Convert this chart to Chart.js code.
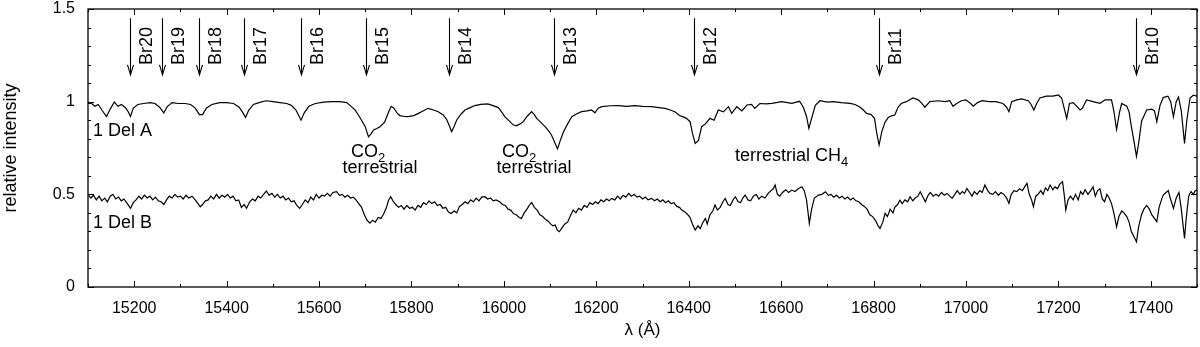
<!DOCTYPE html>
<html>
<head>
<meta charset="utf-8">
<script src="https://cdn.jsdelivr.net/npm/chart.js@4.4.0/dist/chart.umd.min.js"></script>
<style>
  html, body { margin: 0; padding: 0; background: #fff; }
  #wrap { width: 1200px; height: 347px; }
</style>
</head>
<body>
<div id="wrap"><canvas id="myChart" width="1200" height="347"></canvas></div>
<script>
// wavelength (A) and relative intensity
let waveA = [15100,15108,15115,15122,15130,15140,15148,15157,15165,15172,15180,15186,15192,15198,15208,15220,15235,15245,15255,15264,15272,15282,15295,15310,15322,15332,15341,15348,15356,15368,15385,15400,15415,15427,15434,15441,15448,15458,15470,15485,15500,15515,15530,15540,15550,15561,15568,15578,15592,15610,15627,15645,15660,15670,15678,15685,15692,15700,15707,15712,15718,15725,15732,15742,15750,15756,15762,15770,15775,15785,15793,15805,15815,15825,15836,15848,15858,15868,15876,15882,15887,15892,15898,15908,15916,15927,15937,15950,15965,15975,15988,15995,16002,16012,16020,16027,16035,16042,16050,16060,16066,16071,16080,16089,16096,16103,16110,16116,16122,16129,16138,16147,16158,16168,16180,16190,16197,16204,16212,16230,16248,16265,16284,16300,16320,16335,16349,16360,16370,16380,16387,16395,16403,16408,16414,16421,16428,16436,16446,16455,16464,16475,16486,16493,16504,16515,16526,16536,16543,16554,16567,16580,16601,16623,16640,16648,16655,16660,16666,16674,16684,16700,16713,16730,16749,16760,16771,16778,16785,16795,16802,16807,16812,16818,16825,16832,16840,16846,16853,16860,16871,16885,16897,16905,16911,16922,16940,16955,16965,16972,16980,16990,17000,17010,17016,17025,17035,17050,17065,17080,17088,17093,17099,17110,17120,17135,17141,17147,17153,17160,17174,17188,17200,17207,17212,17218,17224,17232,17240,17247,17252,17261,17275,17290,17301,17315,17320,17326,17332,17337,17348,17353,17358,17364,17369,17374,17380,17391,17402,17408,17413,17420,17427,17437,17443,17449,17455,17460,17466,17473,17478,17485,17492,17500];
let fluxA = [0.99,0.99,0.975,0.985,0.955,0.92,0.96,0.998,0.975,0.985,0.97,0.95,0.92,0.965,0.985,0.99,0.995,0.99,0.97,0.94,0.975,0.995,0.99,0.99,0.985,0.965,0.93,0.93,0.965,0.985,0.995,0.995,0.99,0.97,0.945,0.915,0.955,0.985,0.995,1.005,1.0,0.995,0.99,0.98,0.955,0.90,0.94,0.975,0.99,0.998,1.0,1.0,0.995,0.973,0.955,0.928,0.9,0.865,0.81,0.825,0.847,0.855,0.865,0.89,0.94,0.975,0.965,0.935,0.925,0.92,0.919,0.925,0.937,0.95,0.964,0.955,0.946,0.93,0.905,0.87,0.838,0.865,0.901,0.935,0.955,0.968,0.979,0.985,0.988,0.98,0.968,0.945,0.919,0.895,0.875,0.87,0.88,0.892,0.92,0.946,0.93,0.91,0.888,0.865,0.845,0.82,0.78,0.745,0.79,0.838,0.88,0.919,0.935,0.946,0.95,0.955,0.94,0.965,0.973,0.978,0.979,0.975,0.979,0.975,0.973,0.968,0.964,0.955,0.946,0.925,0.919,0.91,0.892,0.83,0.775,0.79,0.865,0.88,0.91,0.9,0.955,0.945,0.973,0.937,0.973,0.95,0.982,0.985,0.964,0.99,0.988,0.991,1.0,0.991,1.002,0.97,0.92,0.856,0.91,0.98,1.005,0.998,1.0,0.995,0.991,0.985,0.97,0.955,0.937,0.93,0.91,0.83,0.766,0.84,0.89,0.915,0.925,0.928,0.97,0.99,1.0,1.02,1.01,0.99,0.97,1.0,1.005,1.0,1.005,0.975,0.99,1.005,1.01,0.99,0.976,0.995,1.005,1.0,1.0,0.99,0.97,0.946,1.0,1.01,1.015,1.005,0.985,0.955,0.99,1.02,1.03,1.03,1.036,1.02,0.97,0.91,0.99,0.995,0.975,0.955,0.965,1.009,1.0,0.991,1.01,1.01,0.95,0.85,0.94,0.99,0.975,0.945,0.865,0.78,0.705,0.78,0.895,0.955,0.96,0.95,0.892,0.98,1.022,1.03,1.0,0.919,1.0,1.025,0.95,0.775,0.9,1.02,1.035,1.03];

let waveB = [15100,15106,15112,15118,15124,15130,15136,15142,15148,15154,15160,15166,15172,15178,15185,15192,15198,15204,15210,15216,15222,15228,15234,15240,15246,15252,15258,15264,15270,15276,15282,15288,15294,15300,15306,15312,15318,15325,15332,15338,15343,15348,15354,15360,15366,15372,15378,15384,15390,15396,15402,15408,15414,15420,15426,15432,15438,15443,15450,15456,15462,15468,15474,15480,15486,15492,15498,15504,15510,15516,15522,15528,15534,15540,15546,15552,15558,15564,15570,15576,15582,15588,15594,15600,15606,15612,15618,15624,15630,15638,15644,15650,15656,15662,15668,15674,15680,15686,15692,15698,15704,15710,15716,15722,15728,15734,15740,15746,15750,15755,15760,15766,15772,15778,15784,15790,15796,15802,15808,15814,15820,15826,15832,15838,15844,15850,15856,15862,15868,15874,15880,15886,15892,15898,15904,15910,15916,15922,15928,15934,15940,15946,15952,15959,15965,15971,15977,15983,15991,15997,16003,16009,16015,16021,16027,16033,16038,16044,16050,16056,16060,16066,16072,16078,16084,16090,16096,16100,16106,16111,16116,16120,16126,16132,16138,16144,16150,16156,16162,16168,16174,16180,16186,16192,16198,16204,16210,16216,16222,16228,16233,16240,16246,16252,16258,16264,16270,16276,16282,16288,16294,16300,16306,16312,16320,16326,16332,16338,16344,16350,16356,16362,16368,16374,16380,16385,16392,16398,16403,16408,16414,16420,16425,16430,16436,16440,16446,16452,16457,16462,16468,16474,16479,16485,16490,16496,16501,16507,16512,16517,16522,16528,16534,16540,16546,16552,16558,16565,16572,16578,16583,16587,16592,16597,16603,16610,16616,16623,16630,16637,16645,16650,16655,16661,16666,16672,16681,16688,16696,16702,16708,16714,16720,16726,16732,16738,16744,16750,16756,16762,16768,16774,16780,16786,16792,16798,16804,16810,16814,16820,16825,16830,16836,16842,16846,16852,16857,16862,16868,16874,16879,16885,16890,16896,16901,16906,16912,16918,16923,16929,16935,16941,16947,16953,16959,16965,16970,16976,16981,16987,16992,16997,17002,17008,17013,17018,17024,17030,17035,17041,17047,17052,17058,17064,17070,17076,17082,17088,17093,17098,17104,17110,17116,17122,17127,17132,17137,17142,17146,17151,17156,17162,17167,17172,17177,17182,17188,17193,17198,17203,17209,17213,17216,17221,17226,17232,17237,17243,17248,17253,17258,17264,17270,17275,17280,17285,17290,17295,17300,17305,17310,17315,17320,17326,17331,17337,17342,17348,17353,17358,17364,17369,17374,17380,17385,17391,17397,17402,17408,17413,17418,17423,17427,17433,17438,17442,17449,17455,17461,17466,17470,17473,17477,17482,17487,17492,17496,17500];
let fluxB = [0.50,0.48,0.495,0.47,0.49,0.465,0.48,0.46,0.49,0.50,0.475,0.485,0.465,0.475,0.45,0.425,0.455,0.47,0.49,0.475,0.495,0.48,0.49,0.47,0.485,0.465,0.46,0.445,0.47,0.49,0.48,0.5,0.485,0.49,0.475,0.495,0.48,0.49,0.47,0.45,0.433,0.445,0.465,0.47,0.49,0.475,0.5,0.48,0.495,0.485,0.5,0.48,0.49,0.465,0.47,0.43,0.445,0.425,0.46,0.475,0.465,0.49,0.48,0.5,0.518,0.495,0.505,0.485,0.5,0.48,0.49,0.47,0.48,0.46,0.465,0.44,0.424,0.445,0.47,0.455,0.485,0.47,0.5,0.48,0.495,0.49,0.505,0.49,0.51,0.514,0.495,0.5,0.485,0.495,0.48,0.485,0.47,0.45,0.43,0.39,0.36,0.345,0.36,0.35,0.375,0.37,0.395,0.43,0.465,0.487,0.465,0.445,0.43,0.44,0.42,0.44,0.425,0.43,0.415,0.44,0.43,0.455,0.445,0.465,0.45,0.46,0.44,0.445,0.425,0.43,0.405,0.397,0.41,0.4,0.435,0.445,0.46,0.45,0.47,0.46,0.48,0.465,0.485,0.487,0.475,0.48,0.465,0.47,0.46,0.445,0.44,0.42,0.415,0.395,0.39,0.375,0.37,0.4,0.42,0.445,0.456,0.43,0.415,0.39,0.38,0.365,0.355,0.343,0.33,0.335,0.305,0.298,0.32,0.34,0.35,0.385,0.415,0.4,0.425,0.415,0.44,0.43,0.455,0.445,0.46,0.45,0.47,0.46,0.475,0.465,0.478,0.47,0.49,0.475,0.495,0.485,0.505,0.49,0.5,0.485,0.49,0.475,0.485,0.47,0.478,0.465,0.475,0.46,0.47,0.455,0.465,0.45,0.455,0.435,0.43,0.415,0.405,0.39,0.375,0.34,0.307,0.33,0.315,0.345,0.37,0.34,0.39,0.41,0.442,0.415,0.43,0.46,0.478,0.445,0.44,0.47,0.487,0.46,0.455,0.48,0.496,0.47,0.465,0.49,0.5,0.475,0.49,0.48,0.505,0.52,0.53,0.55,0.5,0.49,0.51,0.525,0.51,0.523,0.515,0.53,0.541,0.52,0.47,0.343,0.42,0.48,0.496,0.5,0.514,0.495,0.5,0.485,0.495,0.48,0.49,0.475,0.485,0.47,0.48,0.465,0.46,0.445,0.435,0.42,0.39,0.38,0.36,0.33,0.316,0.35,0.397,0.38,0.42,0.4,0.43,0.445,0.469,0.45,0.47,0.46,0.487,0.465,0.48,0.49,0.514,0.49,0.46,0.495,0.51,0.49,0.5,0.49,0.51,0.495,0.505,0.49,0.478,0.5,0.52,0.5,0.515,0.505,0.532,0.51,0.49,0.515,0.5,0.52,0.51,0.55,0.52,0.505,0.5,0.515,0.495,0.51,0.5,0.48,0.451,0.5,0.52,0.515,0.53,0.52,0.54,0.559,0.5,0.47,0.433,0.49,0.5,0.52,0.5,0.535,0.52,0.55,0.525,0.54,0.53,0.555,0.568,0.49,0.415,0.47,0.49,0.47,0.5,0.47,0.515,0.5,0.525,0.5,0.52,0.541,0.49,0.52,0.53,0.475,0.46,0.5,0.48,0.45,0.4,0.325,0.38,0.41,0.4,0.38,0.35,0.298,0.27,0.244,0.33,0.39,0.42,0.44,0.42,0.39,0.37,0.352,0.43,0.47,0.496,0.51,0.52,0.48,0.424,0.48,0.51,0.42,0.33,0.262,0.38,0.49,0.515,0.5,0.52,0.523];

// x tick labels and Brackett line markers
let xLabels = [15200, 15400, 15600, 15800, 16000, 16200, 16400, 16600, 16800, 17000, 17200, 17400];
let brWave = [15191, 15260, 15341, 15438, 15560, 15701, 15881, 16108, 16411, 16811, 17368];
let brNames = ['Br20', 'Br19', 'Br18', 'Br17', 'Br16', 'Br15', 'Br14', 'Br13', 'Br12', 'Br11', 'Br10'];

// text notes: [text, subscript, wavelength, intensity, align]
let notes = [
    ['1 Del A', '', 15111, 0.817, 'left'],
    ['1 Del B', '', 15111, 0.317, 'left'],
    ['CO', '2', 15706, 0.703, 'center'],
    ['terrestrial', '', 15732, 0.614, 'center'],
    ['CO', '2', 16033, 0.703, 'center'],
    ['terrestrial', '', 16065, 0.614, 'center'],
    ['terrestrial CH', '4', 16500, 0.680, 'left']
];

let ptsA = waveA.map((w, i) => ({x: w, y: fluxA[i]}));
let ptsB = waveB.map((w, i) => ({x: w, y: fluxB[i]}));

const FONT = '"Liberation Sans", Arial, Helvetica, sans-serif';

const decor = {
    id: 'decor',
    afterDatasetsDraw(chart) {
        const {ctx, chartArea: a, scales: {x, y}} = chart;
        ctx.save();
        ctx.strokeStyle = '#000';
        ctx.fillStyle = '#000';
        ctx.lineWidth = 1;

        // tick marks on all four sides, pointing inwards
        ctx.beginPath();
        for (let v = 15100; v <= 17500; v += 100) {
            const px = Math.round(x.getPixelForValue(v)) + 0.5;
            const len = v % 200 === 0 ? 6 : 3;
            ctx.moveTo(px, a.bottom); ctx.lineTo(px, a.bottom - len);
            ctx.moveTo(px, a.top); ctx.lineTo(px, a.top + len);
        }
        for (let i = 0; i <= 15; i++) {
            const py = Math.round(y.getPixelForValue(i / 10)) + 0.5;
            const len = i % 5 === 0 ? 6 : 3;
            ctx.moveTo(a.left, py); ctx.lineTo(a.left + len, py);
            ctx.moveTo(a.right, py); ctx.lineTo(a.right - len, py);
        }
        ctx.stroke();

        ctx.lineWidth = 1.3;
        ctx.strokeRect(a.left, a.top, a.right - a.left, a.bottom - a.top);

        // arrows with rotated labels
        ctx.lineWidth = 1.1;
        ctx.font = '18px ' + FONT;
        ctx.textAlign = 'left';
        ctx.textBaseline = 'alphabetic';
        brWave.forEach((w, i) => {
            const px = Math.round(x.getPixelForValue(w)) + 0.5;
            const top = y.getPixelForValue(1.45);
            const tip = y.getPixelForValue(1.145);
            ctx.beginPath();
            ctx.moveTo(px, top); ctx.lineTo(px, tip);
            ctx.moveTo(px - 3, tip - 10); ctx.lineTo(px, tip); ctx.lineTo(px + 3, tip - 10);
            ctx.stroke();
            ctx.save();
            ctx.translate(px + 21, y.getPixelForValue(1.198));
            ctx.rotate(-Math.PI / 2);
            ctx.fillText(brNames[i], 0, 0);
            ctx.restore();
        });

        // annotations
        notes.forEach(([t, sub, w, v, align]) => {
            const px = x.getPixelForValue(w);
            const py = y.getPixelForValue(v);
            ctx.font = '18px ' + FONT;
            const w1 = ctx.measureText(t).width;
            ctx.font = '13px ' + FONT;
            const w2 = sub ? ctx.measureText(sub).width : 0;
            let left = align === 'center' ? px - (w1 + w2) / 2 : px;
            ctx.textAlign = 'left';
            ctx.font = '18px ' + FONT;
            ctx.fillText(t, left, py);
            if (sub) {
                ctx.font = '13px ' + FONT;
                ctx.fillText(sub, left + w1, py + 5);
            }
        });
        ctx.restore();
    }
};

let myChart = document.getElementById('myChart').getContext('2d');

let chart = new Chart(myChart, {
    type: 'line',
    data: {
        datasets: [
            {
                label: '1 Del A',
                data: ptsA,
                borderColor: '#000',
                borderWidth: 1.2,
                pointRadius: 0,
                tension: 0,
                fill: false
            },
            {
                label: '1 Del B',
                data: ptsB,
                borderColor: '#000',
                borderWidth: 1.2,
                pointRadius: 0,
                tension: 0,
                fill: false
            }
        ]
    },
    options: {
        responsive: false,
        animation: false,
        devicePixelRatio: 1,
        layout: { autoPadding: false, padding: { top: 9, right: 3, left: 0, bottom: 0 } },
        plugins: {
            legend: { display: false },
            tooltip: { enabled: false }
        },
        scales: {
            x: {
                type: 'linear',
                min: 15100,
                max: 17500,
                afterFit: s => { s.height = 60; s.paddingLeft = 0; s.paddingRight = 0; },
                afterBuildTicks: s => { s.ticks = xLabels.map(v => ({value: v})); },
                grid: { display: false },
                border: { display: false },
                ticks: {
                    autoSkip: false,
                    maxRotation: 0,
                    padding: 4,
                    color: '#000',
                    font: { family: FONT, size: 16 },
                    callback: v => String(v)
                },
                title: {
                    display: true,
                    text: 'λ (Å)',
                    color: '#000',
                    font: { family: FONT, size: 17 },
                    padding: { top: 0, bottom: 6 }
                }
            },
            y: {
                min: 0,
                max: 1.5,
                afterFit: s => { s.width = 88; s.paddingTop = 0; s.paddingBottom = 0; },
                grid: { display: false },
                border: { display: false },
                ticks: {
                    stepSize: 0.5,
                    padding: 5,
                    color: '#000',
                    font: { family: FONT, size: 16 },
                    callback: v => String(v)
                },
                title: {
                    display: true,
                    text: 'relative intensity',
                    color: '#000',
                    font: { family: FONT, size: 18 },
                    padding: { top: 0, bottom: 0 }
                }
            }
        }
    },
    plugins: [decor]
});
</script>
</body>
</html>
